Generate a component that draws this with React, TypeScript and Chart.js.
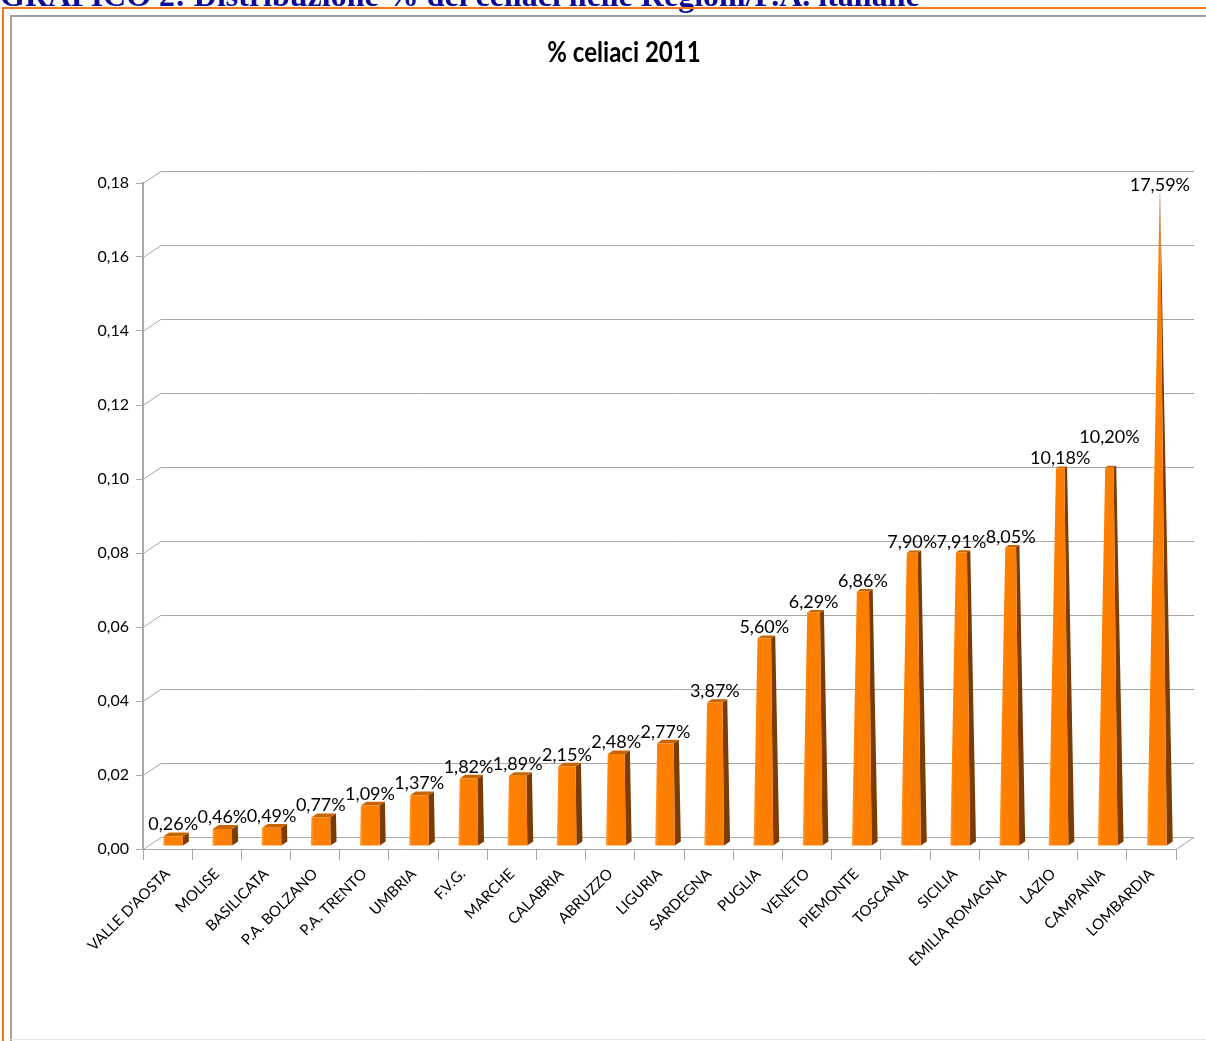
import React, { useEffect, useRef } from 'react';
import { Chart, registerables } from 'chart.js';

Chart.register(...registerables);

// ---------- data ----------
const regions = [
  "VALLE D'AOSTA", 'MOLISE', 'BASILICATA', 'P.A. BOLZANO', 'P.A. TRENTO', 'UMBRIA', 'F.V.G.',
  'MARCHE', 'CALABRIA', 'ABRUZZO', 'LIGURIA', 'SARDEGNA', 'PUGLIA', 'VENETO', 'PIEMONTE',
  'TOSCANA', 'SICILIA', 'EMILIA ROMAGNA', 'LAZIO', 'CAMPANIA', 'LOMBARDIA',
];
const shares = [
  0.0026, 0.0046, 0.0049, 0.0077, 0.0109, 0.0137, 0.0182, 0.0189, 0.0215, 0.0248, 0.0277,
  0.0387, 0.056, 0.0629, 0.0686, 0.079, 0.0791, 0.0805, 0.1018, 0.102, 0.1759,
];
const shareLabels = [
  '0,26%', '0,46%', '0,49%', '0,77%', '1,09%', '1,37%', '1,82%', '1,89%', '2,15%', '2,48%', '2,77%',
  '3,87%', '5,60%', '6,29%', '6,86%', '7,90%', '7,91%', '8,05%', '10,18%', '10,20%', '17,59%',
];
const yTickValues = [0, 0.02, 0.04, 0.06, 0.08, 0.1, 0.12, 0.14, 0.16, 0.18];
const yTickLabels = ['0,00', '0,02', '0,04', '0,06', '0,08', '0,10', '0,12', '0,14', '0,16', '0,18'];
const chartTitle = '% celiaci 2011';
const pageHeader = 'GRAFICO 2: Distribuzione % dei celiaci nelle Regioni/P.A. italiane';

// ---------- style ----------
const W = 1206;
const H = 1041;
const WALL_DX = 18;
const WALL_DY = -12;
const APEX_VALUE = 0.1785;
const GRID = '#a8a8a8';
const LABEL_FONT = '18px Lato';

const threeD = {
  id: 'threeD',
  beforeDatasetsDraw(chart: any) {
    const { ctx, chartArea, scales } = chart;
    const y = scales.y;
    ctx.save();
    ctx.strokeStyle = GRID;
    ctx.lineWidth = 1;
    yTickValues.forEach((v) => {
      const py = Math.round(y.getPixelForValue(v)) + 0.5;
      ctx.beginPath();
      ctx.moveTo(chartArea.left, py);
      ctx.lineTo(chartArea.left + WALL_DX, py + WALL_DY);
      ctx.lineTo(chartArea.right + WALL_DX, py + WALL_DY);
      ctx.stroke();
    });
    const p0 = Math.round(y.getPixelForValue(0)) + 0.5;
    ctx.beginPath();
    ctx.moveTo(chartArea.right, p0);
    ctx.lineTo(chartArea.right + WALL_DX, p0 + WALL_DY);
    ctx.stroke();
    ctx.restore();
  },
  afterDatasetsDraw(chart: any) {
    const { ctx, scales } = chart;
    const y = scales.y;
    const meta = chart.getDatasetMeta(0);
    const H0 = y.getPixelForValue(0) - y.getPixelForValue(APEX_VALUE);
    const placed: { l: number; r: number; t: number; b: number }[] = [];
    ctx.save();
    meta.data.forEach((el: any, i: number) => {
      const { x, y: top, base, width } = el.getProps(['x', 'y', 'base', 'width'], true);
      const h = base - top;
      const ax = x + 8.5;
      const ay = base - 5;
      const hdx = 3;
      const hdy = -2;
      const t = (hh: number) => Math.max(0, 1 - hh / H0);
      const p = (u: number, v: number, hh: number) => ({
        x: ax + t(hh) * (u * width / 2 + v * hdx),
        y: ay - hh + t(hh) * (v * hdy),
      });
      const poly = (pts: any[], fill: any) => {
        ctx.beginPath();
        ctx.moveTo(pts[0].x, pts[0].y);
        for (let k = 1; k < pts.length; k++) ctx.lineTo(pts[k].x, pts[k].y);
        ctx.closePath();
        ctx.fillStyle = fill;
        ctx.fill();
      };
      poly([p(1, -1, 0), p(1, 1, 0), p(1, 1, h), p(1, -1, h)], '#7c3c00');
      poly([p(-1, -1, h), p(1, -1, h), p(1, 1, h), p(-1, 1, h)], '#c96500');
      const fl = p(-1, -1, 0);
      const fr = p(1, -1, 0);
      const g = ctx.createLinearGradient(fl.x, 0, fr.x, 0);
      g.addColorStop(0, '#ffa040');
      g.addColorStop(0.15, '#ff8000');
      g.addColorStop(1, '#fb7e00');
      poly([fl, fr, p(1, -1, h), p(-1, -1, h)], g);

      // data label with simple overlap avoidance
      const lt = p(0, -1, h);
      const lb = p(0, 1, h);
      ctx.font = LABEL_FONT;
      const tw = ctx.measureText(shareLabels[i]).width;
      let cy = lb.y - 8;
      const lh = 18;
      const box = () => ({ l: lt.x - tw / 2, r: lt.x + tw / 2, t: cy - lh / 2, b: cy + lh / 2 });
      let bx = box();
      for (let guard = 0; guard < 5; guard++) {
        const hit = placed.find((q) => Math.min(q.r, bx.r) - Math.max(q.l, bx.l) > 5 && Math.min(q.b, bx.b) - Math.max(q.t, bx.t) > 2);
        if (!hit) break;
        cy = hit.t - lh / 2 - 3;
        bx = box();
      }
      placed.push(bx);
      ctx.fillStyle = '#000';
      ctx.textAlign = 'center';
      ctx.textBaseline = 'middle';
      ctx.fillText(shareLabels[i], lt.x, cy);
    });
    ctx.restore();
  },
};

export default function App() {
  const ref = useRef<HTMLCanvasElement | null>(null);

  useEffect(() => {
    if (!ref.current) return;
    const chart = new Chart(ref.current, {
      type: 'bar',
      data: {
        labels: regions,
        datasets: [
          {
            data: shares,
            backgroundColor: 'rgba(0,0,0,0)',
            borderWidth: 0,
            barPercentage: 0.4,
            categoryPercentage: 1,
          },
        ],
      },
      options: {
        responsive: false,
        animation: false,
        devicePixelRatio: 1,
        layout: { padding: { left: 0, right: 30, top: 183, bottom: 0 } },
        plugins: {
          legend: { display: false },
          tooltip: { enabled: false },
          title: { display: false },
        },
        scales: {
          x: {
            offset: true,
            grid: { display: true, offset: true, drawOnChartArea: false, drawTicks: true, tickLength: 11, color: GRID },
            border: { display: true, color: GRID, width: 1 },
            ticks: {
              autoSkip: false,
              minRotation: 45,
              maxRotation: 45,
              color: '#000',
              padding: 5,
              font: { family: 'Lato', size: 15 },
            },
            afterFit: (s: any) => {
              s.height = 192;
            },
          },
          y: {
            min: 0,
            max: 0.18,
            ticks: {
              stepSize: 0.02,
              color: '#000',
              padding: 7,
              font: { family: 'Lato', size: 16 },
              callback: (v: any) => yTickLabels[Math.round(Number(v) / 0.02)],
            },
            grid: { display: true, drawOnChartArea: false, drawTicks: true, tickLength: 7, color: GRID },
            border: { display: true, color: GRID, width: 2 },
            afterFit: (s: any) => {
              s.width = 143;
            },
          },
        },
      },
      plugins: [threeD],
    } as any);
    return () => chart.destroy();
  }, []);

  return (
    <div style={{ position: 'absolute', left: 0, top: 0, width: W, height: H, overflow: 'hidden', background: '#fff' }}>
      <canvas ref={ref} width={W} height={H} style={{ position: 'absolute', left: 0, top: 0, width: W, height: H }} />
      <div
        style={{
          position: 'absolute', left: 524, top: 33, width: 200, textAlign: 'center', whiteSpace: 'nowrap',
          font: 'bold 29px Lato', lineHeight: '36px', color: '#000', transform: 'scaleX(0.83)',
        }}
      >
        {chartTitle}
      </div>
      <div
        style={{
          position: 'absolute', left: 0, top: -21, whiteSpace: 'nowrap',
          font: 'bold 32px "Liberation Serif"', lineHeight: '32px', color: '#0c0c96',
        }}
      >
        {pageHeader}
      </div>
      <div style={{ position: 'absolute', left: 2, top: 7, width: W - 2, height: 2, background: '#f47b20' }} />
      <div style={{ position: 'absolute', left: 2, top: 7, width: 2, height: H - 7, background: '#f47b20' }} />
      <div style={{ position: 'absolute', left: 10, top: 15, width: W - 10, height: 2, background: '#a0a0a0' }} />
      <div style={{ position: 'absolute', left: 10, top: 15, width: 2, height: H - 15, background: '#a0a0a0' }} />
      <div style={{ position: 'absolute', left: 10, top: 1039, width: W - 10, height: 1, background: '#e4e4e4' }} />
    </div>
  );
}
